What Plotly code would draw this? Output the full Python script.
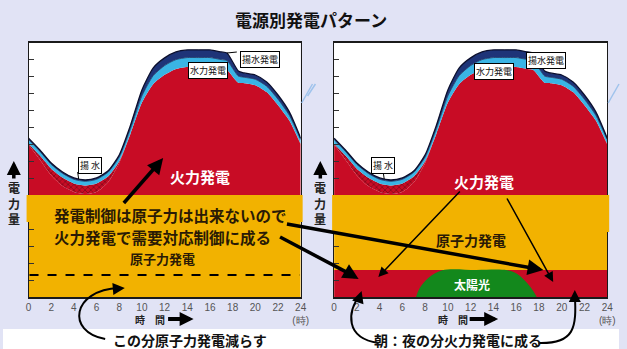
import plotly.graph_objects as go

W, H = 627, 349

# ---------------- data (units: relative power, 0-150 scale) ----------------
hours = [0, 1, 2, 3, 4, 5, 6, 7, 8, 9, 10, 11, 12, 13, 14, 15, 16, 17, 17.5, 18.5, 19, 20, 21, 22, 23, 24]
nuclear_left = [60] * len(hours)
nuclear_right = [44] * len(hours)
thermal_base_right = [16] * len(hours)
thermal = [30, 21, 11.8, 5.5, 2, 0.8, 2, 7.6, 19.2, 36.6, 54.8, 65.8, 71.2, 74.7, 75.9, 75.9, 75.9, 74.7,
           74.1, 66.5, 66.3, 65.1, 61, 53.3, 44.3, 30]
pumping = [0.5, 2.5, 4, 5, 5, 5, 5, 3.5, 1, 0, 0, 0, 0, 0, 0, 0, 0, 0, 0, 0, 0, 0, 0, 0, 0, 0.5]
hydro = [2.5, 2.5, 2.5, 2.5, 2.5, 2.5, 2.5, 2.5, 2.5, 3, 4, 5, 5.5, 5.5, 5.5, 5.5, 5.5, 5.5, 5.5,
         4, 3.5, 3.5, 3.5, 3.5, 3, 2.5]
pumped_gen = [0.8, 0.8, 0.8, 0.8, 0.8, 0.8, 0.8, 0.8, 1.2, 2, 3.5, 4.5, 4.5, 4.5, 4.5, 4.5, 4.5, 4.5, 4.5,
              3, 2.5, 2.5, 2.5, 2.5, 2, 0.8]
solar_hours = [7.2, 7.5, 8.3, 9.5, 12.5, 15.2, 16.1, 17.0, 17.5, 17.8]
solar = [0, 5, 11.3, 15.8, 16, 15.8, 13.6, 8, 3.5, 0]

x_ticks = [0, 2, 4, 6, 8, 10, 12, 14, 16, 18, 20, 22, 24]
x_ticktext = ["0", "2", "4", "6", "8", "10", "12", "14", "16", "18", "20", "22", "24<br>(時)"]

RED = "#c80c25"
ORANGE = "#f2b200"
LBLUE = "#3ab4e4"
NAVY = "#1e3478"
GREEN = "#13881c"
JP = "Noto Sans CJK JP"


def PX(x):
    return x / W


def PY(y):
    return 1 - y / H


fig = go.Figure()


def add_stack(xa, ya, group, layers):
    for name, vals, color, line, pattern in layers:
        kw = {}
        if pattern:
            kw["fillpattern"] = pattern
        fig.add_trace(go.Scatter(
            x=hours, y=vals, name=name, xaxis=xa, yaxis=ya, stackgroup=group,
            mode="lines", line=dict(color=line[0], width=line[1], shape="spline", smoothing=0.6),
            fillcolor=color, hoverinfo="skip", showlegend=False, **kw))


hatch = dict(shape="x", bgcolor=RED, fgcolor="#4a0612", size=4, solidity=0.4)

add_stack("x", "y", "L", [
    ("原子力", nuclear_left, ORANGE, (ORANGE, 0), None),
    ("火力", thermal, RED, (RED, 0), None),
    ("揚水", pumping, RED, (RED, 0), hatch),
    ("水力", hydro, LBLUE, ("#1d3a66", 0.8), None),
    ("揚水発電", pumped_gen, NAVY, ("#0b0f2e", 1.3), None),
])
add_stack("x2", "y2", "R", [
    ("火力(夜)", thermal_base_right, RED, (RED, 0), None),
    ("原子力", nuclear_right, ORANGE, (ORANGE, 0), None),
    ("火力", thermal, RED, (RED, 0), None),
    ("揚水", pumping, RED, (RED, 0), hatch),
    ("水力", hydro, LBLUE, ("#1d3a66", 0.8), None),
    ("揚水発電", pumped_gen, NAVY, ("#0b0f2e", 1.3), None),
])
fig.add_trace(go.Scatter(x=solar_hours, y=solar, xaxis="x2", yaxis="y2", fill="tozeroy",
                         mode="lines", line=dict(color=GREEN, width=0, shape="spline"),
                         fillcolor=GREEN, hoverinfo="skip", showlegend=False))

ydom = [PY(297), PY(43)]
xaxis_common = dict(range=[0, 24], tickmode="array", tickvals=x_ticks, ticktext=x_ticktext,
                    showgrid=False, zeroline=False, showline=True, mirror=True, linecolor="#1a1a1a",
                    linewidth=1.5, ticks="", tickfont=dict(family="Liberation Sans", size=10, color="#555"),
                    fixedrange=True)
yaxis_common = dict(range=[0, 150], tickmode="array", tickvals=list(range(10, 150, 10)),
                    showticklabels=False, ticks="inside", ticklen=5, tickcolor="#333", tickwidth=1,
                    showgrid=False, zeroline=False, showline=True, mirror=True, linecolor="#1a1a1a",
                    linewidth=1, domain=ydom, fixedrange=True)

fig.update_layout(
    width=W, height=H, margin=dict(l=0, r=0, t=0, b=0),
    paper_bgcolor="#e1e3f5", plot_bgcolor="white", showlegend=False,
    xaxis=dict(domain=[PX(26), PX(303)], anchor="y", **xaxis_common),
    yaxis=dict(anchor="x", **yaxis_common),
    xaxis2=dict(domain=[PX(337), PX(615)], anchor="y2", **xaxis_common),
    yaxis2=dict(anchor="x2", **yaxis_common),
)

shapes = []
# white strip at the bottom
shapes.append(dict(type="rect", xref="paper", yref="paper", x0=0, x1=1, y0=0, y1=PY(329),
                   fillcolor="white", line=dict(width=0), layer="below"))
# orange overlay boxes behind the commentary
shapes.append(dict(type="rect", xref="paper", yref="paper", x0=PX(24), x1=PX(305), y0=PY(222), y1=PY(195),
                   fillcolor=ORANGE, line=dict(width=0), layer="above"))
shapes.append(dict(type="rect", xref="paper", yref="paper", x0=PX(335), x1=PX(617), y0=PY(232), y1=PY(195),
                   fillcolor=ORANGE, line=dict(width=0), layer="above"))
# dashed line (left)
shapes.append(dict(type="line", xref="paper", yref="paper", x0=PX(27), x1=PX(302), y0=PY(275), y1=PY(275),
                   line=dict(color="black", width=2, dash="dash")))
# label connectors
for (x0, y0, x1, y1) in [(228, 53, 238, 52), (540, 54, 549, 53), (76, 172, 77, 179), (387, 172, 388, 179)]:
    shapes.append(dict(type="line", xref="paper", yref="paper", x0=PX(x0), y0=PY(y0), x1=PX(x1), y1=PY(y1),
                       line=dict(color="black", width=1)))
# decorative light-blue strokes
for (x0, y0, x1, y1) in [(304, 103, 315, 84), (310, 96, 318, 84), (616, 103, 627, 84)]:
    shapes.append(dict(type="line", xref="paper", yref="paper", x0=PX(x0), y0=PY(y0), x1=PX(x1), y1=PY(y1),
                       line=dict(color="#9fc3ec", width=1.5)))
# shafts of the thick arrows
for (x0, y0, x1, y1) in [(123, 203, 156, 166), (289, 224, 540, 268.3), (282, 237, 354, 274.4)]:
    shapes.append(dict(type="line", xref="paper", yref="paper", x0=PX(x0), y0=PY(y0), x1=PX(x1), y1=PY(y1),
                       line=dict(color="black", width=3.5)))


def path(pts):
    (sx, sy) = pts[0]
    d = f"M {PX(sx)},{PY(sy)} C " + " ".join(f"{PX(x)},{PY(y)}" for x, y in pts[1:])
    return d


for pts in [
    [(104, 339), (64, 332), (70, 290), (118, 288)],
    [(382, 343), (348, 338), (350, 312), (364, 294)],
    [(545, 343), (582, 344), (584, 328), (582, 294)],
]:
    shapes.append(dict(type="path", xref="paper", yref="paper", path=path(pts),
                       line=dict(color="black", width=2)))
fig.update_layout(shapes=shapes)

ann = []


def text(x, y, s, size, color="#111", bold=True, anchor="center", family=JP, **kw):
    ann.append(dict(x=PX(x), y=PY(y), xref="paper", yref="paper", text=(f"<b>{s}</b>" if bold else s),
                    showarrow=False, xanchor=anchor, yanchor="middle",
                    font=dict(family=family, size=size, color=color), **kw))


def arrow(tip, tail, width, head=2, size=1.0):
    ann.append(dict(x=PX(tip[0]), y=PY(tip[1]), xref="paper", yref="paper", text="", showarrow=True,
                    ax=tail[0] - tip[0], ay=tail[1] - tip[1], arrowhead=head, arrowsize=size,
                    arrowwidth=width, arrowcolor="black", standoff=0, startstandoff=0))


def box(x, y, s):
    ann.append(dict(x=PX(x), y=PY(y), xref="paper", yref="paper", text=s, showarrow=False,
                    bgcolor="white", bordercolor="black", borderwidth=1, borderpad=1,
                    font=dict(family=JP, size=9, color="#111")))


# title
text(313, 19, "電源別発電パターン", 17)

# left chart labels
box(262, 51, "揚水発電")
box(209, 62, "水力発電")
box(76, 166, "揚 水")
text(201, 176, "火力発電", 15, color="white")
arrow((163, 158), (154, 169), 3.5, head=2, size=0.9)
text(50, 215, "発電制御は原子力は出来ないので", 15.5, color="#2a1a05", anchor="left")
text(50, 237, "火力発電で需要対応制御に成る", 15.5, color="#2a1a05", anchor="left")
text(162, 258, "原子力発電", 13, color="#2a1a05")
text(110, 340, "この分原子力発電減らす", 14, color="#111", anchor="left")

# right chart labels
box(573, 52, "揚水発電")
box(520, 63, "水力発電")
box(387, 166, "揚 水")
text(490, 181, "火力発電", 15, color="white")
text(476, 240, "原子力発電", 14, color="#2a1a05")
text(477, 284, "太陽光", 12, color="white")
text(463, 340, "朝：夜の分火力発電に成る", 14, color="#111")

# thin arrows from 火力発電 (right)
arrow((382, 277), (465, 190), 1.5, head=2, size=1.3)
arrow((560, 282), (513, 197), 1.5, head=2, size=1.3)
# heads of the long thick arrows
arrow((550, 270), (536, 267.6), 3.5, head=2, size=0.9)
arrow((362, 279), (350, 272), 3.5, head=2, size=0.9)
# arrowheads for curved arrows
arrow((124, 288), (112, 289), 2, head=2, size=1.2)
arrow((365, 291), (362, 300), 2, head=2, size=1.2)
arrow((582, 290), (582, 300), 2, head=2, size=1.2)

# vertical axis captions
for xc in (11, 323):
    arrow((xc, 161), (xc, 180), 3.5, head=2, size=0.8)
    text(xc, 203, "電<br>力<br>量", 12, color="#222")

# horizontal axis captions
for (xt, x0, x1) in [(150, 167, 194), (458, 474, 504)]:
    text(xt, 319, "時　間", 10, color="#222")
    arrow((x1, 319), (x0, 319), 4, head=2, size=0.7)

fig.update_layout(annotations=ann)
fig.write_html("out.html")
